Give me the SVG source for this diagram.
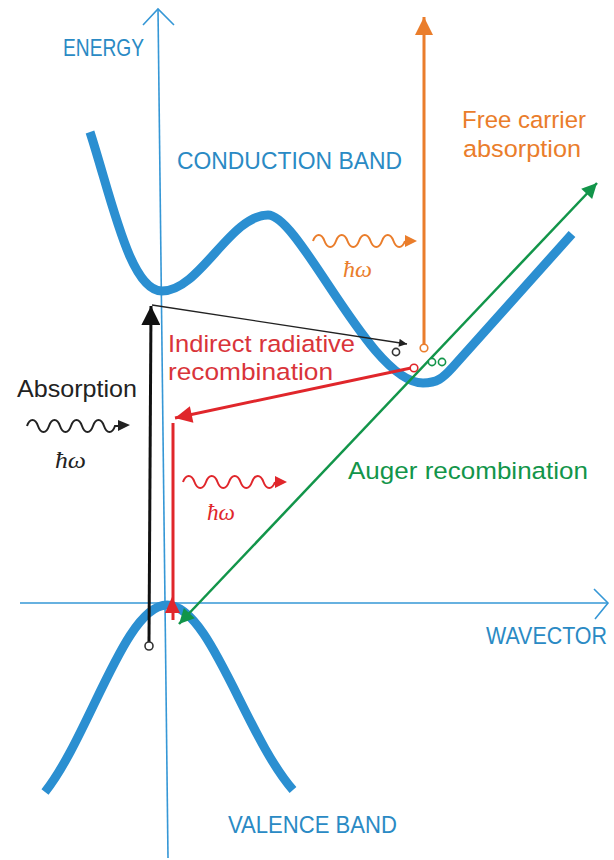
<svg xmlns="http://www.w3.org/2000/svg" width="614" height="860" viewBox="0 0 614 860">
<style>
.lbl{font-family:"Liberation Sans",Arial,sans-serif;font-size:24.5px}
.hw{font-family:"Liberation Serif","Times New Roman",serif;font-style:italic;font-size:24px}
.axis{fill:none;stroke:#3597d6;stroke-width:1.6}
.band{fill:none;stroke:#2b8fd1;stroke-width:9;stroke-linecap:butt;stroke-linejoin:round}
.wave{fill:none;stroke-width:2}
.ring{fill:#fff;stroke-width:1.6}
</style>
<defs>
<marker id="mBlk" viewBox="0 0 10 10" refX="10" refY="5" markerUnits="userSpaceOnUse" markerWidth="12" markerHeight="8" orient="auto"><path d="M0,0 L10,5 L0,10 z" fill="#222"/></marker>
<marker id="mRed" viewBox="0 0 10 10" refX="10" refY="5" markerUnits="userSpaceOnUse" markerWidth="21" markerHeight="17" orient="auto"><path d="M0,0 L10,5 L0,10 z" fill="#e0262b"/></marker>
<marker id="mGrn" viewBox="0 0 10 10" refX="10" refY="5" markerUnits="userSpaceOnUse" markerWidth="21" markerHeight="15" orient="auto-start-reverse"><path d="M0,0 L10,5 L0,10 z" fill="#12954a"/></marker>
<marker id="mOrg" viewBox="0 0 10 10" refX="10" refY="5" markerUnits="userSpaceOnUse" markerWidth="21" markerHeight="18" orient="auto"><path d="M0,0 L10,5 L0,10 z" fill="#ea7d2b"/></marker>
<marker id="mBlkT" viewBox="0 0 10 10" refX="10" refY="5" markerUnits="userSpaceOnUse" markerWidth="20" markerHeight="19" orient="auto"><path d="M0,0 L10,5 L0,10 z" fill="#111"/></marker>
</defs>

<g id="axes">
<path class="axis" d="M158,9 L168,858"/>
<path class="axis" d="M143,25 L158,9 L174,25"/>
<path class="axis" d="M20,603 L607,603"/>
<path class="axis" d="M594,589 L608,603 L595,619"/>
</g>

<g id="conduction-band">
<path class="band" d="M90,132 C112,200 130,291 162,291 C200,291 230,215 268,215 C300,215 370,383 423,383 C437,383 443,378 452,368 L572,234"/>
</g>
<g id="valence-band">
<path class="band" d="M45,792 C90,735 125,605 167,605 C210,605 245,735 293,790"/>
</g>

<g id="labels">
<text class="lbl" x="63" y="56" fill="#2a8ac4" textLength="81" lengthAdjust="spacingAndGlyphs">ENERGY</text>
<text class="lbl" x="177" y="169" fill="#2a8ac4" textLength="225" lengthAdjust="spacingAndGlyphs">CONDUCTION BAND</text>
<text class="lbl" transform="translate(486,644) scale(0.875,1)" x="0" y="0" fill="#2a8ac4">WAVECTOR</text>
<text class="lbl" x="228" y="833" fill="#2a8ac4" textLength="169" lengthAdjust="spacingAndGlyphs">VALENCE BAND</text>
</g>

<g id="connectors">
<path d="M149,642 L151,306" stroke="#111" stroke-width="3" fill="none" marker-end="url(#mBlkT)"/>
<circle class="ring" cx="149" cy="646" r="4" stroke="#333"/>
<path d="M152,305 L407,344" stroke="#222" stroke-width="1.3" fill="none" marker-end="url(#mBlk)"/>
<circle class="ring" cx="396" cy="352" r="3.6" stroke="#333"/>
<path d="M424,344 L424,17" stroke="#ea7d2b" stroke-width="3" fill="none" marker-end="url(#mOrg)"/>
<circle class="ring" cx="424" cy="348" r="3.8" stroke="#ea7d2b"/>
<path d="M411,368 L175,418" stroke="#e0262b" stroke-width="3" fill="none" marker-end="url(#mRed)"/>
<circle class="ring" cx="414" cy="368" r="3.8" stroke="#e0262b"/>
<path d="M173,423 L173,620" stroke="#e0262b" stroke-width="3" fill="none"/>
<path d="M172,597 L165,613 L180,613 z" fill="#e0262b"/>
<path d="M179,624 L597,183" stroke="#12954a" stroke-width="2.5" fill="none" marker-start="url(#mGrn)" marker-end="url(#mGrn)"/>
<circle class="ring" cx="432" cy="362" r="3.6" stroke="#12954a"/>
<circle class="ring" cx="442" cy="362" r="3.6" stroke="#12954a"/>
</g>

<g id="absorption">
<text class="lbl" x="17" y="397" fill="#222" textLength="120" lengthAdjust="spacingAndGlyphs">Absorption</text>
<path class="wave" stroke="#222" d="M27,426 c2.75,-8 8.25,-8 11,0 s8.25,8 11,0 s8.25,-8 11,0 s8.25,8 11,0 s8.25,-8 11,0 s8.25,8 11,0 s8.25,-8 11,0 s8.25,8 11,0 l3,0"/>
<path d="M118,420 L130,425 L118,431 z" fill="#222"/>
<text class="hw" x="55" y="468" fill="#222" textLength="31" lengthAdjust="spacingAndGlyphs">ħω</text>
</g>

<g id="indirect-radiative">
<text class="lbl" x="168" y="352" fill="#d9343a" textLength="187" lengthAdjust="spacingAndGlyphs">Indirect radiative</text>
<text class="lbl" x="168" y="380" fill="#d9343a" textLength="165" lengthAdjust="spacingAndGlyphs">recombination</text>
<path class="wave" stroke="#e0262b" d="M183,482 c2.9,-8 8.6,-8 11.5,0 s8.6,8 11.5,0 s8.6,-8 11.5,0 s8.6,8 11.5,0 s8.6,-8 11.5,0 s8.6,8 11.5,0 s8.6,-8 11.5,0 s8.6,8 11.5,0"/>
<path d="M275,476 L287,482 L275,488 z" fill="#e0262b"/>
<text class="hw" x="207" y="520" fill="#e0262b" textLength="28" lengthAdjust="spacingAndGlyphs">ħω</text>
</g>

<g id="free-carrier">
<text class="lbl" x="462" y="128" fill="#ea7d2b" textLength="124" lengthAdjust="spacingAndGlyphs">Free carrier</text>
<text class="lbl" x="463" y="157" fill="#ea7d2b" textLength="118" lengthAdjust="spacingAndGlyphs">absorption</text>
<path class="wave" stroke="#ea7d2b" d="M313,241 c2.9,-8 8.6,-8 11.5,0 s8.6,8 11.5,0 s8.6,-8 11.5,0 s8.6,8 11.5,0 s8.6,-8 11.5,0 s8.6,8 11.5,0 s8.6,-8 11.5,0 s8.6,8 11.5,0"/>
<path d="M405,235 L417,241 L405,247 z" fill="#ea7d2b"/>
<text class="hw" x="343" y="277" fill="#ea7d2b" textLength="29" lengthAdjust="spacingAndGlyphs">ħω</text>
</g>

<g id="auger">
<text class="lbl" x="348" y="479" fill="#12954a" textLength="240" lengthAdjust="spacingAndGlyphs">Auger recombination</text>
</g>
</svg>
